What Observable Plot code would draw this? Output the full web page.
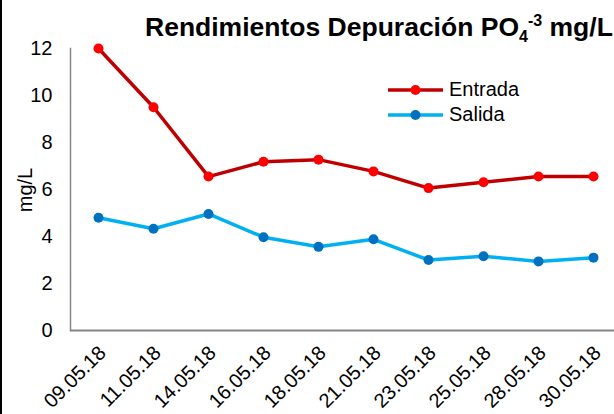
<!DOCTYPE html>
<html><head><meta charset="utf-8">
<script src="https://cdn.jsdelivr.net/npm/d3@7"></script>
<script src="https://cdn.jsdelivr.net/npm/@observablehq/plot@0.6"></script>
<style>
body{margin:0;background:#fff;font-family:Arial,"Liberation Sans",sans-serif;}
#wrap{position:relative;width:614px;height:414px;overflow:hidden;background:#fff;}
#border{position:absolute;left:0;top:0;width:2px;height:414px;background:#000;}
#title{position:absolute;left:145px;top:12px;font-weight:bold;font-size:26.5px;white-space:nowrap;color:#000;}
#title sub,#title sup{font-size:16px;line-height:0;}
#ylab{position:absolute;left:25px;top:190px;transform:translate(-50%,-50%) rotate(-90deg);font-size:20px;white-space:nowrap;color:#000;}
.leg{position:absolute;left:388px;display:flex;align-items:center;font-size:20px;color:#000;white-space:nowrap;}
.leg svg{margin-right:5px;}
</style></head>
<body>
<div id="wrap">
  <div id="chart"></div>
  <div id="title">Rendimientos Depuración PO<sub>4</sub><sup>-3</sup> mg/L</div>
  <div id="ylab">mg/L</div>
  <div id="legend"></div>
  <div id="border"></div>
</div>
<script>
const dates = ["09.05.18","11.05.18","14.05.18","16.05.18","18.05.18","21.05.18","23.05.18","25.05.18","28.05.18","30.05.18"];
const entrada = [12.0, 9.5, 6.55, 7.18, 7.27, 6.77, 6.06, 6.31, 6.55, 6.55];
const salida = [4.8, 4.33, 4.96, 3.97, 3.56, 3.88, 3.0, 3.16, 2.94, 3.1];
const yTicks = [0, 2, 4, 6, 8, 10, 12];
const seriesNames = ["Entrada", "Salida"];
const lineColors = ["#C00000", "#00B0F0"];
const dotColors = ["#FF0000", "#0070C0"];

const rows = [];
dates.forEach((d, i) => {
  rows.push({date: d, value: entrada[i], series: "Entrada"});
  rows.push({date: d, value: salida[i], series: "Salida"});
});

const font = 'Arial, "Liberation Sans", sans-serif';
const chart = Plot.plot({
  width: 614,
  height: 414,
  marginLeft: 70,
  marginRight: 0,
  marginTop: 48,
  marginBottom: 84,
  style: {fontFamily: font, fontSize: "20px", color: "#000", background: "transparent"},
  x: {type: "point", domain: dates, range: [70.5, 620.5], padding: 0.5, axis: null},
  y: {domain: [0, 12], axis: null},
  marks: [
    Plot.axisY({ticks: yTicks, tickSize: 0, tickPadding: 18, fontSize: 20, tickFormat: d => d, fill: "#000", label: null}),
    Plot.frame({anchor: "left", stroke: "#868686", strokeWidth: 1.5}),
    Plot.ruleY([0], {stroke: "#868686", strokeWidth: 2}),
    ...seriesNames.map((s, k) => Plot.line(rows.filter(r => r.series === s), {x: "date", y: "value", stroke: lineColors[k], strokeWidth: 3.5})),
    ...seriesNames.map((s, k) => Plot.dot(rows.filter(r => r.series === s), {x: "date", y: "value", r: 5, fill: dotColors[k]})),
    Plot.text(dates, {x: d => d, frameAnchor: "bottom", rotate: -45, textAnchor: "end", lineAnchor: "middle", dx: 4, dy: 19, fontSize: 20, fill: "#000"})
  ]
});
document.getElementById("chart").appendChild(chart);

const leg = document.getElementById("legend");
seriesNames.forEach((s, k) => {
  const div = document.createElement("div");
  div.className = "leg";
  div.style.top = (k === 0 ? 78 : 103) + "px";
  div.innerHTML = `<svg width="56" height="12"><line x1="0" y1="6" x2="55" y2="6" stroke="${lineColors[k]}" stroke-width="3.5"/><circle cx="27.5" cy="6" r="5" fill="${dotColors[k]}"/></svg><span>${s}</span>`;
  leg.appendChild(div);
});
</script>
</body></html>
